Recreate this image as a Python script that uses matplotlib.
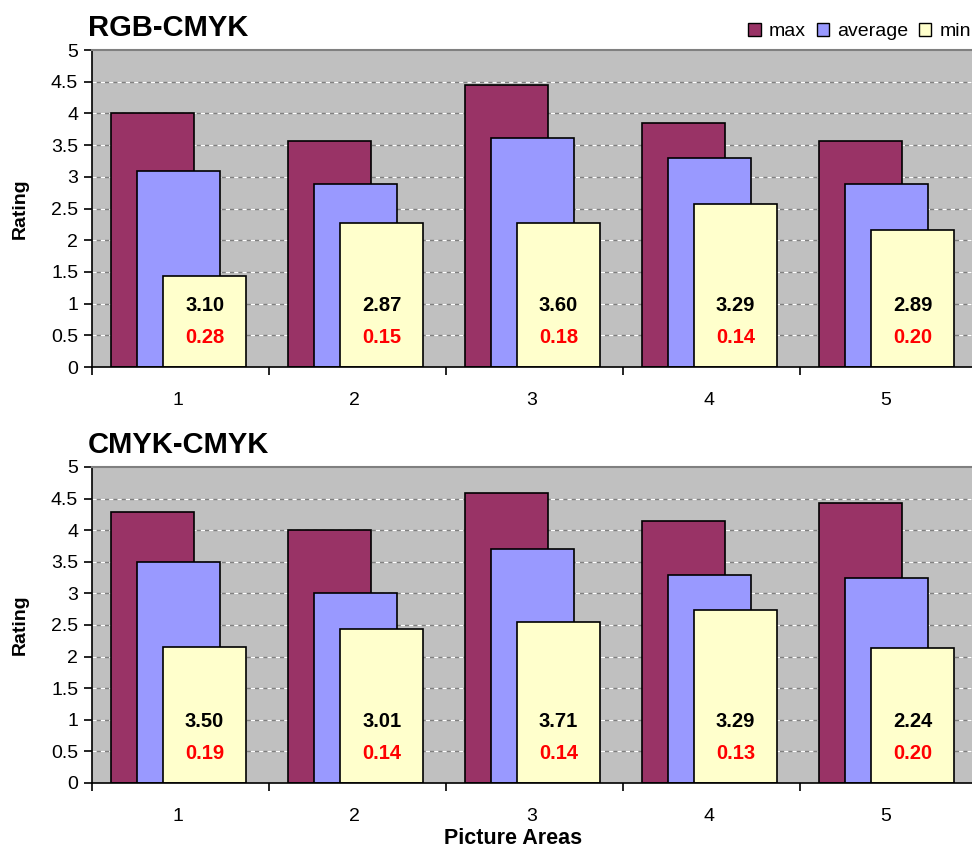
"""RGB-CMYK vs CMYK-CMYK ratings per picture area"""

import matplotlib
matplotlib.use('Agg')
import matplotlib.pyplot as plt
from matplotlib.patches import Patch

plt.rcParams['font.family'] = ['Liberation Sans', 'DejaVu Sans']

areas = [1, 2, 3, 4, 5]
series = ['max', 'average', 'min']

# RGB-CMYK
rgb_max = [4.00, 3.56, 4.45, 3.85, 3.56]
rgb_avg = [3.09, 2.89, 3.62, 3.30, 2.89]
rgb_min = [1.44, 2.27, 2.27, 2.57, 2.16]
rgb_mean_lbl = [3.10, 2.87, 3.60, 3.29, 2.89]
rgb_std_lbl = [0.28, 0.15, 0.18, 0.14, 0.20]

# CMYK-CMYK
cmyk_max = [4.29, 4.00, 4.59, 4.15, 4.43]
cmyk_avg = [3.50, 3.00, 3.70, 3.29, 3.24]
cmyk_min = [2.15, 2.44, 2.55, 2.74, 2.14]
cmyk_mean_lbl = [3.50, 3.01, 3.71, 3.29, 2.24]
cmyk_std_lbl = [0.19, 0.14, 0.14, 0.13, 0.20]

colors = ['#993366', '#9999FF', '#FFFFCC']
yticks = [0, 0.5, 1, 1.5, 2, 2.5, 3, 3.5, 4, 4.5, 5]


def draw_panel(ax, title, mx, avg, mn, mean_lbl, std_lbl):
    ax.set_facecolor('#C0C0C0')
    for y in yticks[1:-1]:
        ax.axhline(y, color='#808080', lw=1, zorder=0)
        ax.axhline(y, color='white', lw=1, ls=(0, (3, 3)), zorder=0.5)
    offs = [-0.158, -0.011, 0.136]
    for vals, off, c in zip([mx, avg, mn], offs, colors):
        ax.bar([a + off for a in areas], vals, width=0.469, color=c,
               edgecolor='black', linewidth=1.2, zorder=2)
    for a, m, s in zip(areas, mean_lbl, std_lbl):
        ax.text(a + 0.136, 0.97, f"{m:.2f}", ha='center', va='center',
                fontsize=14.5, fontweight='bold', color='black', zorder=3)
        ax.text(a + 0.136, 0.47, f"{s:.2f}", ha='center', va='center',
                fontsize=14.5, fontweight='bold', color='red', zorder=3)
    ax.set_xlim(0.5, 5.5)
    ax.set_ylim(0, 5)
    ax.set_yticks(yticks)
    ax.set_yticklabels([f"{y:g}" for y in yticks], fontsize=14)
    ax.set_xticks([a - 0.015 for a in areas])
    ax.set_xticklabels([str(a) for a in areas], fontsize=14)
    ax.set_xticks([a + 0.5 for a in [0] + areas], minor=True)
    ax.tick_params(axis='x', which='major', length=0, pad=18)
    ax.tick_params(axis='x', which='minor', length=6, width=1.2, direction='out')
    ax.tick_params(axis='y', length=6, width=1.2, direction='out', pad=4)
    ax.spines['left'].set_linewidth(1.2)
    ax.spines['bottom'].set_linewidth(1.2)
    ax.spines['top'].set_color('#808080')
    ax.spines['top'].set_linewidth(1.5)
    ax.spines['right'].set_visible(False)
    ax.set_ylabel('Rating', fontsize=14, fontweight='bold')
    ax.yaxis.set_label_coords(-0.071, 0.5)
    ax.set_title(title, loc='left', fontsize=21, fontweight='bold', x=-0.005, pad=10)


fig = plt.figure(figsize=(9.72, 8.48), dpi=100)
ax1 = fig.add_axes([0.0947, 0.5672, 0.9105, 0.3738])
ax2 = fig.add_axes([0.0947, 0.0767, 0.9105, 0.3726])

draw_panel(ax1, 'RGB-CMYK', rgb_max, rgb_avg, rgb_min, rgb_mean_lbl, rgb_std_lbl)
draw_panel(ax2, 'CMYK-CMYK', cmyk_max, cmyk_avg, cmyk_min, cmyk_mean_lbl, cmyk_std_lbl)
ax2.set_xlabel('Picture Areas', fontsize=15.5, fontweight='bold', va='center')
ax2.xaxis.set_label_coords(0.476, -0.176)

handles = [Patch(facecolor=c, edgecolor='black', linewidth=1) for c in colors]
fig.legend(handles, series, loc='upper left', bbox_to_anchor=(0.752, 0.994),
           ncol=3, frameon=False, fontsize=14, handlelength=0.65,
           handleheight=0.65, handletextpad=0.4, columnspacing=0.55)

fig.savefig('out.png', dpi=100)
